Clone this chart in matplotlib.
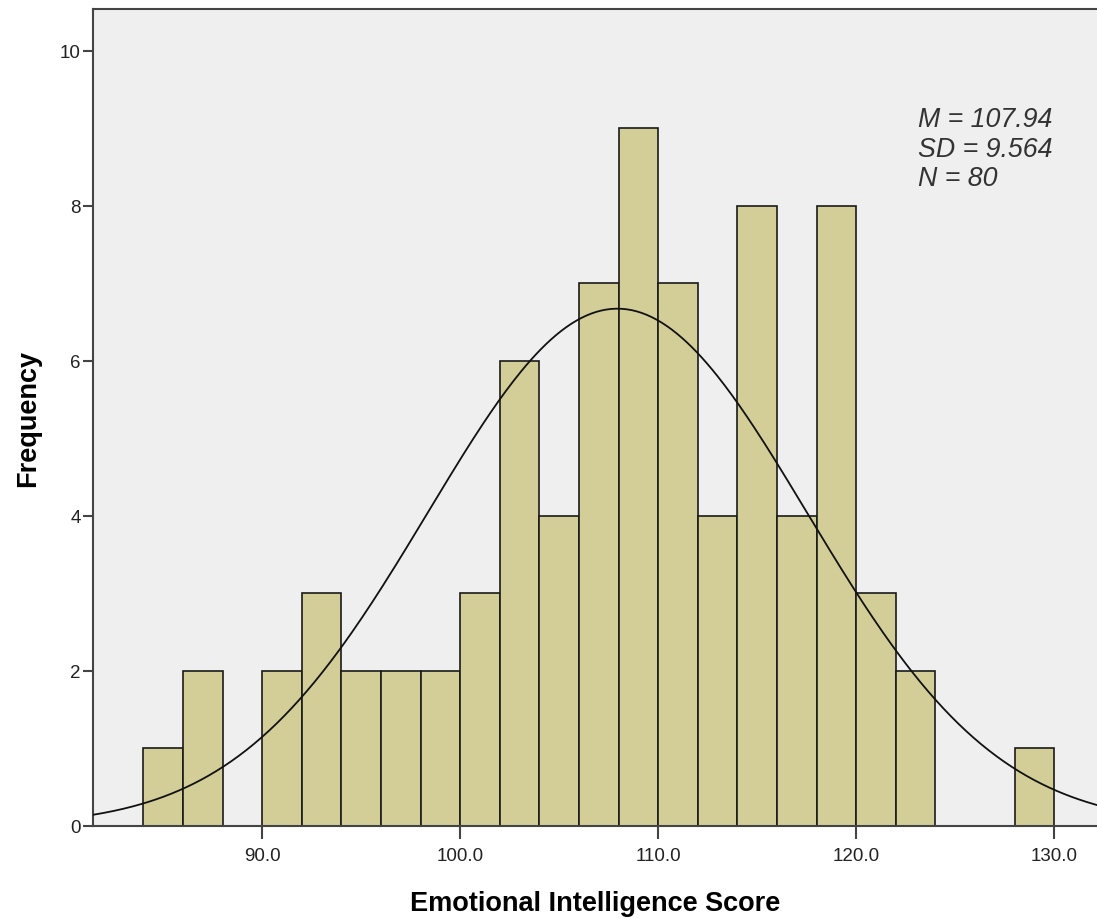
import numpy as np
import matplotlib
matplotlib.use("Agg")
import matplotlib.pyplot as plt

# histogram bins (left edges) and counts, width 2
bin_edges = [84, 86, 88, 90, 92, 94, 96, 98, 100, 102, 104, 106, 108,
             110, 112, 114, 116, 118, 120, 122, 124, 126, 128, 130]
counts = [1, 2, 0, 2, 3, 2, 2, 2, 3, 6, 4, 7, 9,
          7, 4, 8, 4, 8, 3, 2, 0, 0, 1]

mean_score = 107.94
sd_score = 9.564
n_obs = 80

x_ticks = [90, 100, 110, 120, 130]
x_tick_labels = ["90.0", "100.0", "110.0", "120.0", "130.0"]
y_ticks = [0, 2, 4, 6, 8, 10]

plt.rcParams["font.family"] = ["Liberation Sans", "DejaVu Sans"]

fig = plt.figure(figsize=(10.97, 9.2), dpi=100)
ax = fig.add_axes([0.0848, 0.1011, 0.9152, 0.8880])
ax.set_facecolor("#efefef")

edges = np.array(bin_edges, dtype=float)
ax.bar(edges[:-1], counts, width=np.diff(edges), align="edge",
       color="#d3ce98", edgecolor="#1a1a1a", linewidth=1.2, zorder=2)

# normal curve scaled to counts
bw = edges[1] - edges[0]
xs = np.linspace(81.46, 132.16, 400)
ys = n_obs * bw / (sd_score * np.sqrt(2 * np.pi)) * np.exp(-0.5 * ((xs - mean_score) / sd_score) ** 2)
ax.plot(xs, ys, color="#111111", linewidth=1.3, zorder=3)

ax.set_xlim(81.46, 132.16)
ax.set_ylim(0, 10.54)
ax.set_xticks(x_ticks)
ax.set_xticklabels(x_tick_labels)
ax.set_yticks(y_ticks)

for side in ["left", "bottom", "top"]:
    ax.spines[side].set_color("#444444")
    ax.spines[side].set_linewidth(1.5)
ax.spines["right"].set_visible(False)

ax.tick_params(axis="x", direction="out", length=9, width=1.5, color="#444444",
               labelsize=13.5, labelcolor="#222222", pad=6)
ax.tick_params(axis="y", direction="out", length=7, width=1.5, color="#444444",
               labelsize=13.5, labelcolor="#222222", pad=2)

ax.set_xlabel("Emotional Intelligence Score", fontsize=19.5, fontweight="bold", labelpad=19)
ax.set_ylabel("Frequency", fontsize=19.5, fontweight="bold", labelpad=13)

stats = [f"M = {mean_score:.2f}", f"SD = {sd_score:.3f}", f"N = {n_obs}"]
for txt, yy in zip(stats, [0.857, 0.820, 0.784]):
    ax.text(0.822, yy, txt, transform=ax.transAxes, fontsize=19.3, style="italic",
            color="#333333", va="baseline", ha="left")

fig.savefig("out.png", dpi=100)
